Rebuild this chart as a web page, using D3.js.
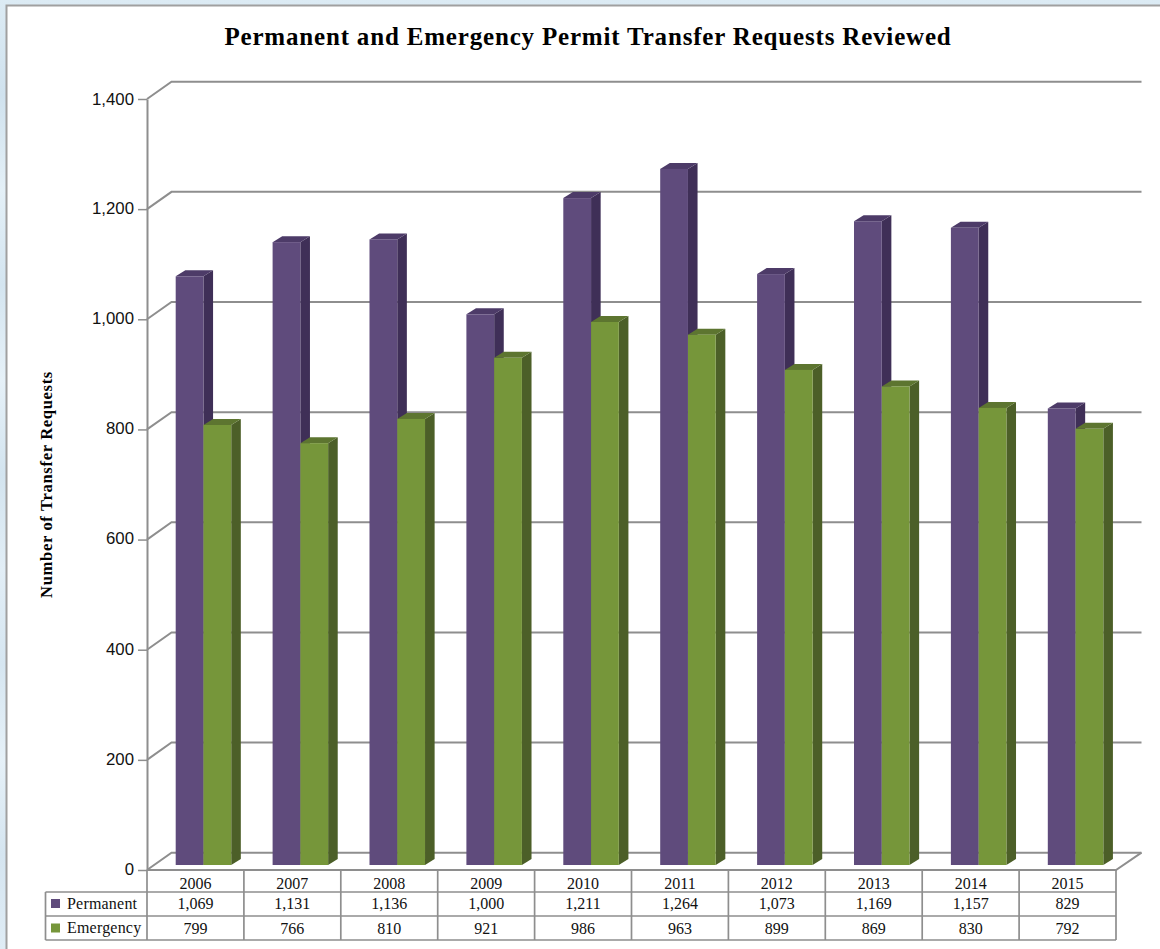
<!DOCTYPE html>
<html><head><meta charset="utf-8">
<script src="https://cdnjs.cloudflare.com/ajax/libs/d3/7.8.5/d3.min.js"></script>
<style>html,body{margin:0;padding:0;background:#dbe9f3;overflow:hidden}svg{display:block}</style>
</head><body><svg id="c" width="1160" height="949"></svg>
<script>
const years=["2006","2007","2008","2009","2010","2011","2012","2013","2014","2015"];
const permanent=[1069,1131,1136,1000,1211,1264,1073,1169,1157,829];
const emergency=[799,766,810,921,986,963,899,869,830,792];
const yTicks=[0,200,400,600,800,1000,1200,1400];
const titleText="Permanent and Emergency Permit Transfer Requests Reviewed";
const yTitle="Number of Transfer Requests";
const seriesNames=["Permanent","Emergency"];
const seriesColors=[{f:"#5f4b7c",s:"#3f2f57",t:"#4d3b68"},{f:"#76963a",s:"#4c5f28",t:"#5d7530"}];

const svg=d3.select("#c");
const W=1160,H=949;
// background
const defs=svg.append("defs");
const g=defs.append("linearGradient").attr("id","bg").attr("x1",0).attr("x2",0).attr("y1",0).attr("y2",1);
[[0,"#dcebf4"],[.1,"#d0e2ee"],[.2,"#e4f0f7"],[.3,"#d4e5f0"],[.4,"#e6f1f8"],[.5,"#d3e4ef"],[.6,"#e2eef6"],[.7,"#d6e6f1"],[.8,"#e6f1f8"],[.9,"#d5e5f0"],[1,"#dfecf5"]].forEach(d=>g.append("stop").attr("offset",d[0]).attr("stop-color",d[1]));
svg.append("rect").attr("width",W).attr("height",H).attr("fill","url(#bg)");
svg.append("rect").attr("x",6.5).attr("y",5.5).attr("width",W).attr("height",H).attr("fill","#fff").attr("stroke","#a0a0a0").attr("stroke-width",2);

const x0=147,x1=1116,y0=870,yTop=99,dxB=24.5,dyB=-17.3;
const x=d3.scaleBand().domain(years).range([x0,x1]);
const y=d3.scaleLinear().domain([0,1400]).range([y0,yTop]);
const grid="#8e8e8e";
const G=svg.append("g");
yTicks.forEach(t=>{
  const p=y(t);
  G.append("path").attr("fill","none").attr("stroke",grid).attr("stroke-width",2)
   .attr("d",d3.line()([[x0,p],[x0+dxB,p+dyB],[1141.5,p+dyB]]));
});
G.append("path").attr("fill","none").attr("stroke",grid).attr("stroke-width",2)
 .attr("d",d3.line()([[1141.5,y0+dyB],[x1,y0],[x0,y0]]));
// axis
const axis=d3.axisLeft(y).tickValues(yTicks).tickSize(9).tickSizeOuter(0).tickPadding(4).tickFormat(d3.format(","));
const ax=svg.append("g").attr("transform",`translate(${x0},0)`).call(axis);
ax.select(".domain").attr("stroke",grid).attr("stroke-width",2);
ax.selectAll("line").attr("stroke",grid).attr("stroke-width",1.5);
ax.selectAll("text").attr("font-family","Liberation Sans").attr("font-size",16.8).attr("fill","#111").attr("dy",(d)=>d===1400?"0.32em":"0.26em");

// bars
const barW=x.bandwidth()*0.2865,off=28.7,dep=9.6,depY=-6,base=-5;
const bars=svg.append("g");
const pts=a=>a.map(p=>p.join(",")).join(" ");
function bar(i,v,k){
  const c=seriesColors[k];
  const l=x(years[i])+off+k*barW,r=l+barW,b=y(0)+base,t=y(v)+base;
  bars.append("polygon").attr("fill",c.s).attr("points",pts([[r,b],[r+dep,b+depY],[r+dep,t+depY],[r,t]]));
  bars.append("polygon").attr("fill",c.t).attr("points",pts([[l,t],[l+dep,t+depY],[r+dep,t+depY],[r,t]]));
  bars.append("rect").attr("x",l).attr("y",t).attr("width",barW).attr("height",b-t).attr("fill",c.f);
}
years.forEach((d,i)=>{bar(i,permanent[i],0);});
years.forEach((d,i)=>{bar(i,emergency[i],1);});

// title
svg.append("text").attr("x",588).attr("y",45).attr("text-anchor","middle").attr("font-family","Liberation Serif").attr("font-weight","bold").attr("font-size",25).attr("letter-spacing",0.82).attr("fill","#000").text(titleText);
svg.append("text").attr("transform","translate(52,484.5) rotate(-90)").attr("text-anchor","middle").attr("font-family","Liberation Serif").attr("font-weight","bold").attr("font-size",16.6).attr("letter-spacing",0.65).attr("fill","#000").text(yTitle);

// data table
const rowY=[870,892,916,940];
const tb=svg.append("g");
const tline=(a,b,c,d)=>tb.append("line").attr("x1",a).attr("y1",b).attr("x2",c).attr("y2",d).attr("stroke","#8e8e8e").attr("stroke-width",1.7);
tline(45.5,rowY[1],x1,rowY[1]);tline(45.5,rowY[2],x1,rowY[2]);tline(45.5,rowY[3],x1,rowY[3]);
tline(45.5,rowY[1],45.5,rowY[3]);
years.forEach(d=>tline(x(d),rowY[0],x(d),rowY[3]));
tline(x1,rowY[0],x1,rowY[3]);
const tt=(s,xx,yy,anchor)=>tb.append("text").attr("x",xx).attr("y",yy).attr("text-anchor",anchor||"middle").attr("font-family","Liberation Serif").attr("font-size",16).attr("fill","#111").text(s);
const fmt=d3.format(",");
years.forEach((d,i)=>{
  const c=x(d)+x.bandwidth()/2;
  tt(d,c,888.5);
  tt(fmt(permanent[i]),c,908.5);
  tt(fmt(emergency[i]),c,934);
});
seriesNames.forEach((n,k)=>{
  const yy=[903.5,928][k];
  tb.append("rect").attr("x",51).attr("y",yy-4.5).attr("width",9).attr("height",9).attr("fill",seriesColors[k].f);
  tt(n,67,yy+5,"start").attr("letter-spacing",0.2);
});
</script></body></html>
